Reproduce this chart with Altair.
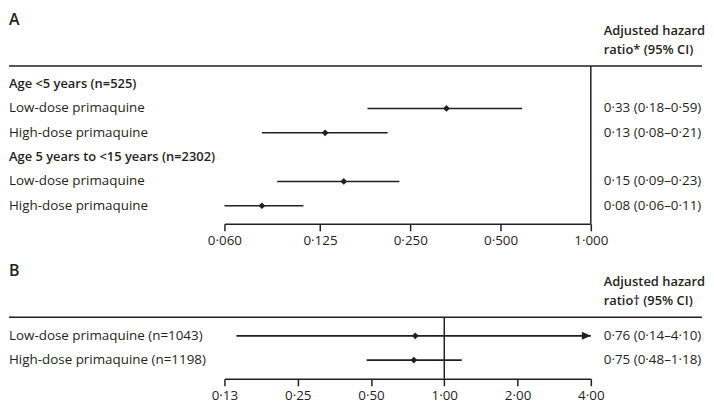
import altair as alt
import pandas as pd

# ---------------- data ----------------
a_title = "A"
a_head = ["Adjusted hazard", "ratio* (95% CI)"]
a_labels = ["Age <5 years (n=525)", "Low-dose primaquine", "High-dose primaquine",
            "Age 5 years to <15 years (n=2302)", "Low-dose primaquine", "High-dose primaquine"]
a_is_header = [True, False, False, True, False, False]
a_hr = [None, 0.33, 0.13, None, 0.15, 0.08]
a_lo = [None, 0.18, 0.08, None, 0.09, 0.06]
a_hi = [None, 0.59, 0.21, None, 0.23, 0.11]
a_ticks = [0.06, 0.125, 0.25, 0.5, 1.0]

b_title = "B"
b_head = ["Adjusted hazard", "ratio† (95% CI)"]
b_labels = ["Low-dose primaquine (n=1043)", "High-dose primaquine (n=1198)"]
b_is_header = [False, False]
b_hr = [0.76, 0.75]
b_lo = [0.14, 0.48]
b_hi = [4.10, 1.18]
b_ticks = [0.125, 0.25, 0.5, 1.0, 2.0, 4.0]

reference_value = [1.0]

# ---------------- style ----------------
FONT = "Open Sans"
INK = "#231f20"
FS = 13.5
FS_HEAD = 13
LEFT = -217
RIGHT = 382
RULE_END = 481
PLOT_W = 369


def fmt(v):
    return f"{v:.2f}".replace(".", "·")


def panel(title, head, labels, is_header, hr, lo, hi, ticks, decimals, height, pad):
    ci = [f"{fmt(h)} ({fmt(l)}–{fmt(u)})" if h is not None else ""
          for h, l, u in zip(hr, lo, hi)]
    df = pd.DataFrame({
        "row": list(range(len(labels))),
        "label": labels,
        "header": is_header,
        "hr": hr,
        "lo": lo,
        "hi": hi,
        "ci": ci,
    })
    xscale = alt.Scale(type="log", base=2, domain=[ticks[0], ticks[-1]],
                       nice=False, clamp=True)
    axis = alt.Axis(
        values=ticks,
        labelExpr=f"replace(format(datum.value, '.{decimals}f'), '.', '·')",
        title=None, grid=False,
        domainColor=INK, domainWidth=1.5,
        tickColor=INK, tickWidth=1.5, tickSize=7,
        labelColor=INK, labelFont=FONT, labelFontSize=FS,
        labelPadding=3, labelFlush=False, labelOverlap=False,
    )
    y = alt.Y("row:O", axis=None, scale=alt.Scale(type="point", padding=pad))
    base = alt.Chart(df)
    valid = base.transform_filter("isValid(datum.hr)")

    ci_rule = valid.mark_rule(color=INK, strokeWidth=1.6).encode(
        x=alt.X("lo:Q", scale=xscale, axis=axis), x2="hi:Q", y=y)
    pts = valid.mark_point(shape="diamond", filled=True, size=46, color=INK,
                           opacity=1).encode(x=alt.X("hr:Q", scale=xscale), y=y)
    arrow = valid.transform_filter(f"datum.hi > {ticks[-1]}").mark_point(
        shape="M -1.5 -0.67 L 0 0 L -1.5 0.67 Z", filled=True, size=144,
        color=INK, opacity=1).encode(x=alt.X("hi:Q", scale=xscale), y=y)
    ref = alt.Chart(pd.DataFrame({"ref": reference_value})).mark_rule(
        color=INK, strokeWidth=1.5).encode(x=alt.X("ref:Q", scale=xscale))
    left_plain = base.transform_filter("!datum.header").mark_text(
        align="left", baseline="middle", font=FONT, fontSize=FS,
        color=INK).encode(x=alt.value(LEFT), y=y, text="label:N")
    left_bold = base.transform_filter("datum.header").mark_text(
        align="left", baseline="middle", font=FONT, fontSize=FS_HEAD,
        fontWeight=600, color=INK).encode(x=alt.value(LEFT), y=y,
                                          text="label:N")
    right = valid.mark_text(align="left", baseline="middle", font=FONT,
                            fontSize=FS, color=INK).encode(
        x=alt.value(RIGHT), y=y, text="ci:N")
    top_rule = alt.Chart(pd.DataFrame({"z": [0]})).mark_rule(
        color=INK, strokeWidth=1.5).encode(
        x=alt.value(LEFT), x2=alt.value(RULE_END), y=alt.value(0))
    h1 = alt.Chart(pd.DataFrame({"t": [head[0]]})).mark_text(
        align="left", baseline="middle", font=FONT, fontSize=FS_HEAD,
        fontWeight=600, color=INK).encode(
        x=alt.value(RIGHT), y=alt.value(-35), text="t:N")
    h2 = alt.Chart(pd.DataFrame({"t": [head[1]]})).mark_text(
        align="left", baseline="middle", font=FONT, fontSize=FS_HEAD,
        fontWeight=600, color=INK).encode(
        x=alt.value(RIGHT), y=alt.value(-16), text="t:N")
    ttl = alt.Chart(pd.DataFrame({"t": [title]})).mark_text(
        align="left", baseline="middle", font=FONT, fontSize=16,
        fontWeight=600, color=INK).encode(
        x=alt.value(LEFT), y=alt.value(-46), text="t:N")

    layers = [ref, ci_rule, pts, arrow, left_plain, right, top_rule, h1, h2, ttl]
    if any(is_header):
        layers.append(left_bold)
    return alt.layer(*layers).properties(width=PLOT_W, height=height)


pa = panel(a_title, a_head, a_labels, a_is_header, a_hr, a_lo, a_hi,
           a_ticks, 3, 159, 0.745)
pb = panel(b_title, b_head, b_labels, b_is_header, b_hr, b_lo, b_hi,
           b_ticks, 2, 62, 0.77)

chart = alt.vconcat(pa, pb, spacing=16).configure_view(
    stroke=None).properties(
    background="white",
    padding={"left": 0, "top": 3, "right": 0, "bottom": 0})

chart.save("out.html", embed_options={"renderer": "svg", "actions": False})
